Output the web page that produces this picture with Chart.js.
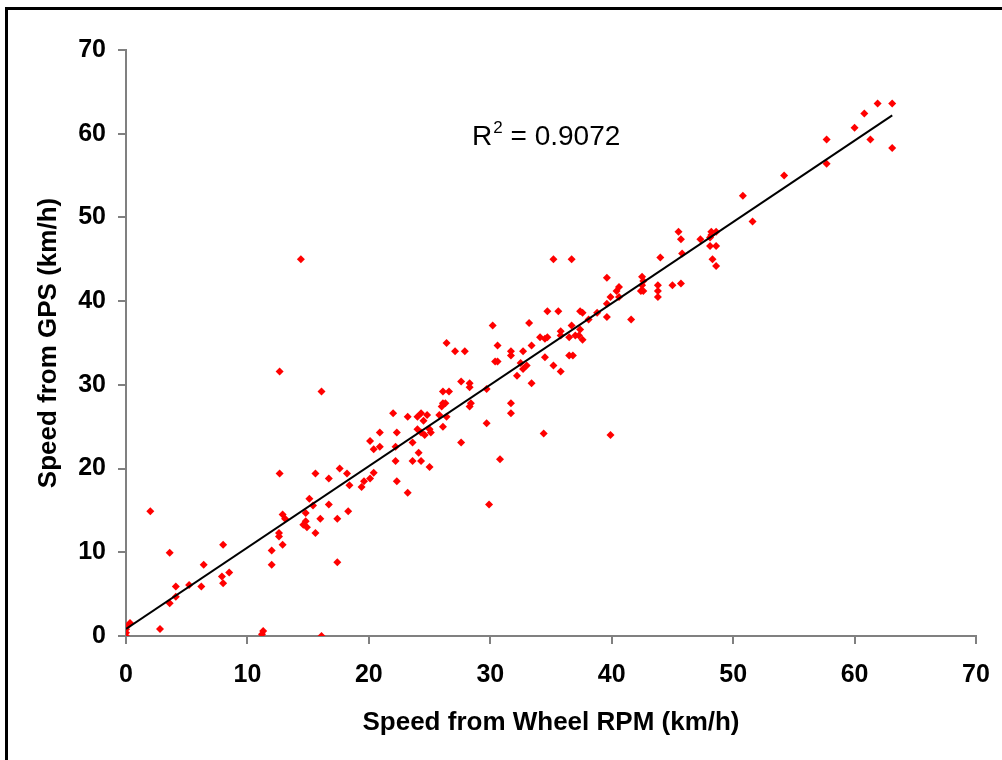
<!DOCTYPE html>
<html>
<head>
<meta charset="utf-8">
<script src="https://cdn.jsdelivr.net/npm/chart.js@4.4.1/dist/chart.umd.min.js"></script>
<style>
  body { margin: 0; background: #fff; overflow: hidden; }
  #frame { position: absolute; left: 5px; top: 7px; width: 1100px; height: 900px; border: 3px solid #000; }
  #wrap { position: absolute; left: 0; top: 0; width: 1002px; height: 760px; }
</style>
</head>
<body>
<div id="frame"></div>
<div id="wrap"><canvas id="myChart" width="1002" height="760"></canvas></div>
<script>
// Speed from wheel RPM (x) vs speed from GPS (y), km/h
const wheelSpeed = [
  0, 0, 0, 0.05, 0.33, 2.8, 11.2, 11.3, 16.1, 2.0, 3.6,
  3.6, 4.1, 4.1, 5.2, 6.2, 6.4, 8.0, 7.9, 8.0, 8.5,
  12.0, 12.0, 12.6, 12.6, 12.9, 13.1, 12.9,
  15.1, 15.4, 14.8, 14.8, 14.6, 14.9, 15.6, 16.0, 16.7, 17.4, 17.4, 18.3,
  12.65, 16.1, 12.65, 15.6, 16.7, 17.6, 18.2, 18.4, 19.4, 19.6, 20.1, 20.4,
  20.1, 20.4, 20.9, 20.9, 22.3, 23.2, 22.0, 22.3, 22.2, 22.2,
  23.2, 24.0, 24.3, 24.8, 24.5, 24.0, 24.3, 24.6, 25.0, 25.1,
  23.6, 24.1, 23.6, 24.3, 25.0, 25.8, 26.0, 26.1, 26.3, 26.4, 26.1, 26.1, 26.6,
  26.4, 27.1, 27.9, 27.6, 28.3, 28.3, 28.3, 28.4, 27.6, 29.7, 29.7, 29.9,
  30.4, 30.6, 30.6, 30.8, 14.4,
  35.2, 36.7, 39.6, 44.0, 45.8, 42.5, 42.6, 42.5, 42.4, 42.6, 43.8, 43.8, 43.8,
  45.0, 45.7, 40.6, 40.4, 39.9, 40.6, 39.6, 39.6, 38.8, 38.1, 37.4, 37.6, 41.6,
  34.7, 35.6, 33.2, 30.2, 31.7, 31.7, 32.7, 33.4, 32.5, 32.7, 33.0, 32.2, 33.4,
  34.5, 35.2, 35.8, 34.1, 34.5, 34.7, 35.8, 35.8, 36.5, 36.7, 37.0, 37.4, 37.3,
  37.6, 36.5, 36.8, 31.7, 31.7, 34.4, 39.9,
  57.7, 54.2, 50.8, 51.6, 45.5, 45.7, 47.3, 48.2, 48.6, 48.2, 48.1, 48.1, 48.6,
  48.3, 48.6,
  57.7, 60.0, 60.8, 61.9, 63.1, 61.3, 63.1
];
const gpsSpeed = [
  0, 0.4, 0.8, 1.1, 1.55, 0.84, 0.2, 0.6, 0, 14.9, 9.95,
  3.9, 4.7, 5.9, 6.1, 5.9, 8.5, 10.9, 7.1, 6.3, 7.6,
  10.2, 8.5, 12.3, 11.9, 14.5, 14.0, 10.9,
  16.4, 15.6, 14.7, 13.7, 13.3, 13.0, 12.3, 14.0, 15.7, 14.0, 8.8, 14.9,
  31.6, 29.2, 19.4, 19.4, 18.8, 20.0, 19.4, 18.0, 17.8, 18.5, 18.8, 19.5,
  23.3, 22.3, 22.6, 24.3, 18.5, 17.1, 26.6, 24.3, 22.6, 20.9,
  26.2, 26.2, 26.6, 26.4, 25.7, 24.7, 24.3, 24.0, 24.7, 24.3,
  23.1, 21.9, 20.9, 20.9, 20.2, 26.4, 27.4, 27.8, 27.8, 26.2, 25.0, 29.2, 29.2,
  35.0, 34.0, 34.0, 30.4, 30.2, 29.7, 27.4, 27.8, 23.1, 29.5, 25.4, 15.7,
  32.8, 32.8, 34.7, 21.1, 45.0,
  45.0, 45.0, 42.8, 45.2, 45.7, 42.9, 42.4, 41.9, 41.2, 41.2, 41.9, 41.2, 40.5,
  41.9, 42.1, 41.7, 41.2, 40.5, 40.5, 39.7, 38.1, 38.6, 37.8, 38.8, 38.6, 37.8,
  38.8, 38.8, 37.4, 37.1, 34.0, 33.5, 34.0, 34.7, 32.6, 31.9, 32.3, 31.1, 30.2,
  33.3, 32.3, 31.6, 35.7, 35.5, 35.7, 36.4, 35.9, 35.7, 37.1, 35.9, 36.6, 35.9,
  35.4, 33.5, 33.5, 27.8, 26.6, 24.2, 24.0,
  56.4, 55.0, 52.6, 49.5, 48.3, 47.4, 47.4, 48.3, 48.3, 47.9, 47.6, 46.6, 46.6,
  45.0, 44.2,
  59.3, 60.7, 62.4, 63.6, 63.6, 59.3, 58.3
];

// linear trendline end points as drawn on the picture
const trendX = [0, 63.1];
const trendY = [0.85, 62.2];
const rSquared = "0.9072";

const axisTicks = [0, 10, 20, 30, 40, 50, 60, 70];

const scatterPoints = wheelSpeed.map((x, i) => ({ x, y: gpsSpeed[i] }));
const trendPoints = trendX.map((x, i) => ({ x, y: trendY[i] }));

const FONT = "'Liberation Sans', Arial, sans-serif";
const axisGrey = "#808080";

const ctx = document.getElementById("myChart").getContext("2d");

new Chart(ctx, {
  type: "scatter",
  data: {
    datasets: [
      {
        label: "GPS",
        data: scatterPoints,
        pointStyle: "rectRot",
        pointRadius: 4,
        pointBackgroundColor: "#ff0000",
        pointBorderColor: "#ff0000",
        pointBorderWidth: 0,
        showLine: false,
        order: 2,
      },
      {
        label: "Trend",
        type: "line",
        data: trendPoints,
        borderColor: "#000",
        borderWidth: 2,
        pointRadius: 0,
        fill: false,
        order: 1,
      },
    ],
  },
  options: {
    responsive: false,
    animation: false,
    events: [],
    layout: {
      padding: { left: 0, right: 26, top: 50, bottom: 0 },
    },
    scales: {
      x: {
        type: "linear",
        min: 0,
        max: 70,
        afterFit: (scale) => {
          scale.height = 124;
          scale.paddingLeft = 0;
          scale.paddingRight = 14;
        },
        afterBuildTicks: (scale) => { scale.ticks = axisTicks.map((v) => ({ value: v })); },
        border: { display: true, color: axisGrey, width: 2 },
        grid: { drawOnChartArea: false, drawTicks: true, tickLength: 8, color: axisGrey, lineWidth: 2 },
        ticks: {
          color: "#000",
          padding: 16,
          maxRotation: 0,
          font: { family: FONT, size: 25, weight: "bold" },
        },
        title: {
          display: true,
          text: "Speed from Wheel RPM (km/h)",
          color: "#000",
          padding: { top: 0, bottom: 22 },
          font: { family: FONT, size: 26, weight: "bold" },
        },
      },
      y: {
        type: "linear",
        min: 0,
        max: 70,
        afterFit: (scale) => {
          scale.width = 126;
          scale.paddingTop = 0;
          scale.paddingBottom = 0;
        },
        afterBuildTicks: (scale) => { scale.ticks = axisTicks.map((v) => ({ value: v })); },
        border: { display: true, color: axisGrey, width: 2 },
        grid: { drawOnChartArea: false, drawTicks: true, tickLength: 8, color: axisGrey, lineWidth: 2 },
        ticks: {
          color: "#000",
          padding: 12,
          font: { family: FONT, size: 25, weight: "bold" },
        },
        title: {
          display: true,
          text: "Speed from GPS (km/h)",
          color: "#000",
          padding: { top: 33, bottom: 0 },
          font: { family: FONT, size: 26, weight: "bold" },
        },
      },
    },
    plugins: {
      legend: { display: false },
      tooltip: { enabled: false },
      title: { display: false },
    },
  },
  plugins: [
    {
      id: "rSquaredLabel",
      afterDatasetsDraw(chart) {
        const { ctx, scales: { x, y } } = chart;
        const px = x.getPixelForValue(28.5);
        const py = y.getPixelForValue(58.7);
        ctx.save();
        ctx.fillStyle = "#000";
        ctx.textBaseline = "alphabetic";
        ctx.textAlign = "left";
        ctx.font = "28px " + FONT;
        ctx.fillText("R", px, py);
        const rw = ctx.measureText("R").width;
        ctx.font = "17px " + FONT;
        ctx.fillText("2", px + rw + 1, py - 12);
        const sw = ctx.measureText("2").width;
        ctx.font = "28px " + FONT;
        ctx.fillText(" = " + rSquared, px + rw + sw + 1, py);
        ctx.restore();
      },
    },
  ],
});
</script>
</body>
</html>
